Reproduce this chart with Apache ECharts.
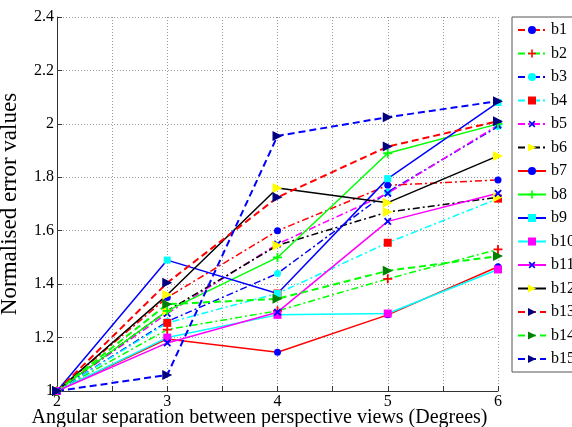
<!DOCTYPE html>
<html>
<head>
<meta charset="utf-8">
<script src="https://cdn.jsdelivr.net/npm/echarts@6/dist/echarts.min.js"></script>
<style>
  html, body { margin: 0; padding: 0; background: #fff; }
  #chart { width: 572px; height: 427px; }
</style>
</head>
<body>
<div id="chart"></div>
<script>
// angular separation (degrees)
const xs = [2, 3, 4, 5, 6];

// normalised error values per method
const b1 = [1, 1.35, 1.60, 1.77, 1.79];
const b2 = [1, 1.23, 1.30, 1.42, 1.53];
const b3 = [1, 1.26, 1.44, 1.745, 1.99];
const b4 = [1, 1.255, 1.365, 1.555, 1.72];
const b5 = [1, 1.29, 1.55, 1.74, 1.995];
const b6 = [1, 1.30, 1.545, 1.67, 1.725];
const b7 = [1, 1.195, 1.145, 1.285, 1.465];
const b8 = [1, 1.30, 1.50, 1.89, 2.0];
const b9 = [1, 1.49, 1.365, 1.795, 2.08];
const b10 = [1, 1.20, 1.285, 1.29, 1.455];
const b11 = [1, 1.18, 1.295, 1.635, 1.74];
const b12 = [1, 1.36, 1.76, 1.705, 1.88];
const b13 = [1, 1.405, 1.725, 1.915, 2.01];
const b14 = [1, 1.325, 1.345, 1.45, 1.505];
const b15 = [1, 1.06, 1.955, 2.025, 2.085];

const names = ["b1", "b2", "b3", "b4", "b5", "b6", "b7", "b8", "b9", "b10", "b11", "b12", "b13", "b14", "b15"];
const values = [b1, b2, b3, b4, b5, b6, b7, b8, b9, b10, b11, b12, b13, b14, b15];

const DASHDOT = [7, 3, 2, 3];
const DASH = [7, 4];
const PLUS = "path://M4,0H6V10H4ZM0,4H10V6H0Z";

// line colour, line type, marker, marker colour, marker size, rotate
const styles = [
  ["#ff0000", DASHDOT, "circle", "#0000ff", 7, 0],
  ["#00ff00", DASHDOT, PLUS, "#ff0000", 9, 0],
  ["#0000ff", DASHDOT, "circle", "#00ffff", 7, 0],
  ["#00ffff", DASHDOT, "rect", "#ff0000", 8, 0],
  ["#ff00ff", DASHDOT, PLUS, "#0000ff", 9, 45],
  ["#000000", DASHDOT, "triangle", "#ffff00", 10, -90],
  ["#ff0000", "solid", "circle", "#0000ff", 7, 0],
  ["#00ff00", "solid", PLUS, "#00ff00", 9, 0],
  ["#0000ff", "solid", "rect", "#00ffff", 7, 0],
  ["#00ffff", "solid", "rect", "#ff00ff", 8, 0],
  ["#ff00ff", "solid", PLUS, "#0000ff", 9, 45],
  ["#000000", "solid", "triangle", "#ffff00", 10, -90],
  ["#ff0000", DASH, "triangle", "#000080", 10, -90],
  ["#00ff00", DASH, "triangle", "#008000", 10, -90],
  ["#0000ff", DASH, "triangle", "#000080", 10, -90],
];

const chart = echarts.init(document.getElementById("chart"));

const series = names.map((name, i) => {
  const s = styles[i];
  return {
    name: name,
    type: "line",
    data: xs.map((x, j) => [x, values[i][j]]),
    symbol: s[2],
    symbolSize: s[4],
    symbolRotate: s[5],
    showAllSymbol: true,
    lineStyle: { color: s[0], type: s[1], width: s[1] === DASH ? 2 : 1.5 },
    itemStyle: { color: s[3], borderWidth: 0 },
    emphasis: { disabled: true },
    animation: false,
  };
});

const font = "'Liberation Serif', 'Times New Roman', serif";

const option = {
  animation: false,
  grid: { left: 57, right: 74, top: 17, bottom: 36, outerBoundsMode: "none", containLabel: false },
  legend: {
    orient: "vertical",
    left: 512,
    top: 17,
    padding: [5, 6, 5, 5],
    itemWidth: 28,
    itemHeight: 10,
    itemGap: 7.5,
    borderColor: "#555",
    borderWidth: 1,
    backgroundColor: "#fff",
    textStyle: { fontFamily: font, fontSize: 16, lineHeight: 10, color: "#000" },
    data: names,
  },
  xAxis: {
    type: "value",
    min: 2,
    max: 6,
    interval: 0.5,
    name: "Angular separation between perspective views (Degrees)",
    nameLocation: "middle",
    nameGap: 17,
    nameMoveOverlap: false,
    nameTextStyle: { fontFamily: font, fontSize: 20, color: "#000", padding: [0, 36, 0, 0] },
    axisLine: { show: true, onZero: false, lineStyle: { color: "#333", width: 1 } },
    axisTick: { show: true, inside: true, length: 5, lineStyle: { color: "#333" } },
    axisLabel: {
      fontFamily: font,
      fontSize: 16,
      color: "#000",
      margin: 3,
      formatter: (v) => (Number.isInteger(v) ? String(v) : ""),
    },
    splitLine: { show: true, lineStyle: { color: "#999", type: [1, 2] } },
  },
  yAxis: {
    type: "value",
    min: 1,
    max: 2.4,
    interval: 0.2,
    name: "Normalised error values",
    nameLocation: "middle",
    nameGap: 36,
    nameMoveOverlap: false,
    nameTextStyle: { fontFamily: font, fontSize: 23, color: "#000" },
    axisLine: { show: true, onZero: false, lineStyle: { color: "#333", width: 1 } },
    axisTick: { show: true, inside: true, length: 5, lineStyle: { color: "#333" } },
    axisLabel: {
      fontFamily: font,
      fontSize: 16,
      color: "#000",
      margin: 3,
      formatter: (v) => String(Math.round(v * 10) / 10),
    },
    splitLine: { show: true, lineStyle: { color: "#999", type: [1, 2] } },
  },
  series: series,
};

chart.setOption(option);
</script>
</body>
</html>
